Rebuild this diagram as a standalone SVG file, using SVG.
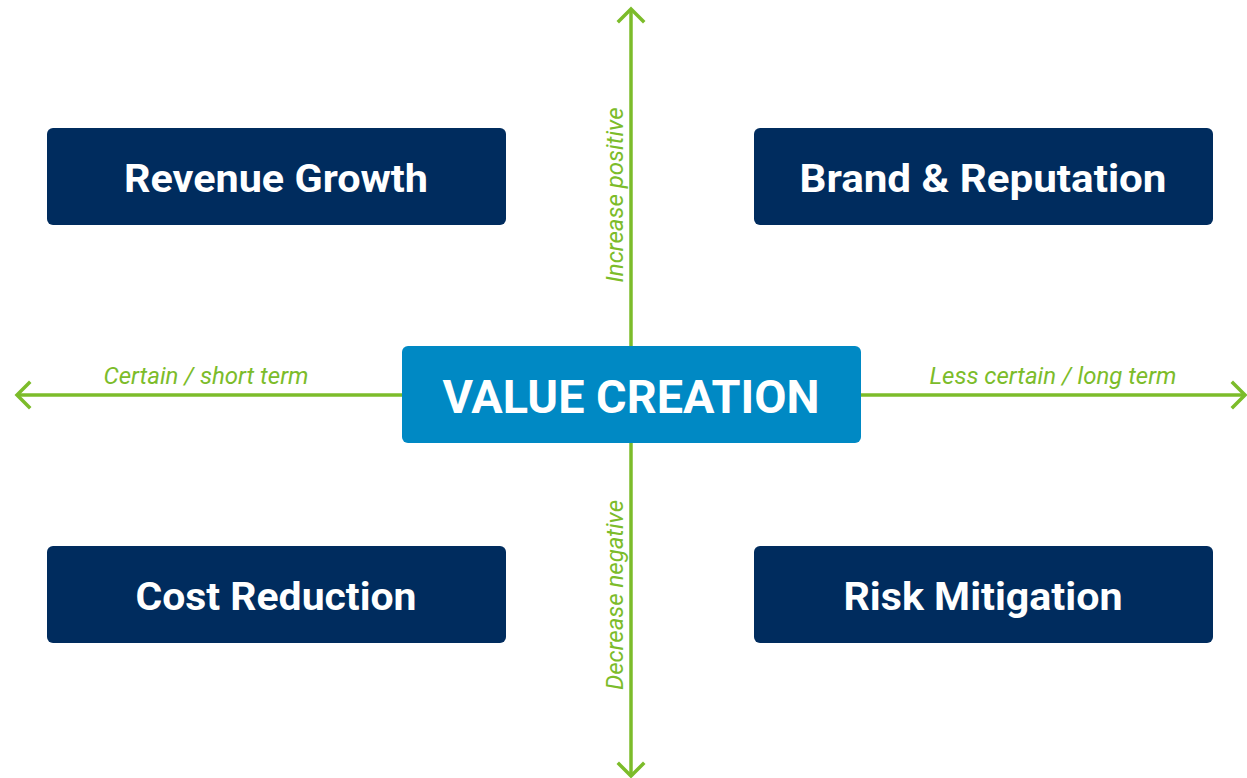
<svg xmlns="http://www.w3.org/2000/svg" width="1247" height="778" viewBox="0 0 1247 778">
<style>
.axis{stroke:#7cbc2a;stroke-width:3.5;fill:none}
.head{stroke:#7cbc2a;stroke-width:3.5;fill:none;stroke-linecap:square}
.lbl{font-family:Roboto,"Liberation Sans",sans-serif;font-style:italic;font-size:23px;fill:#7cbc2a;text-anchor:middle}
.dark{fill:#002c5e}
.title{font-family:Roboto,"Liberation Sans",sans-serif;font-weight:700;fill:#ffffff;text-anchor:middle}
</style>
<rect width="1247" height="778" fill="#ffffff"/>
<g id="connectors">
<line class="axis" x1="631" y1="10" x2="631" y2="776"/>
<line class="axis" x1="17" y1="395" x2="1245" y2="395"/>
<polyline class="head" points="619,21 631,9 643,21"/>
<polyline class="head" points="619,764 631,776 643,764"/>
<polyline class="head" points="29,383 17,395 29,407"/>
<polyline class="head" points="1233,383 1245,395 1233,407"/>
<text class="lbl" x="206" y="384" textLength="205" lengthAdjust="spacingAndGlyphs">Certain / short term</text>
<text class="lbl" x="1053" y="384" textLength="247" lengthAdjust="spacingAndGlyphs">Less certain / long term</text>
<text class="lbl" transform="translate(623,195) rotate(-90)" textLength="175" lengthAdjust="spacingAndGlyphs">Increase positive</text>
<text class="lbl" transform="translate(623,595) rotate(-90)" textLength="190" lengthAdjust="spacingAndGlyphs">Decrease negative</text>
</g>
<g id="center">
<rect x="402" y="346" width="459" height="97" rx="6" fill="#0089c4"/>
<text class="title" x="631" y="413" font-size="46" textLength="377" lengthAdjust="spacingAndGlyphs">VALUE CREATION</text>
</g>
<g id="revenue">
<rect class="dark" x="47" y="128" width="459" height="97" rx="6"/>
<text class="title" x="276" y="192" font-size="39" textLength="304" lengthAdjust="spacingAndGlyphs">Revenue Growth</text>
</g>
<g id="brand">
<rect class="dark" x="754" y="128" width="459" height="97" rx="6"/>
<text class="title" x="983" y="192" font-size="39" textLength="367" lengthAdjust="spacingAndGlyphs">Brand &amp; Reputation</text>
</g>
<g id="cost">
<rect class="dark" x="47" y="546" width="459" height="97" rx="6"/>
<text class="title" x="276" y="610" font-size="39" textLength="281" lengthAdjust="spacingAndGlyphs">Cost Reduction</text>
</g>
<g id="risk">
<rect class="dark" x="754" y="546" width="459" height="97" rx="6"/>
<text class="title" x="983" y="610" font-size="39" textLength="279" lengthAdjust="spacingAndGlyphs">Risk Mitigation</text>
</g>
</svg>
